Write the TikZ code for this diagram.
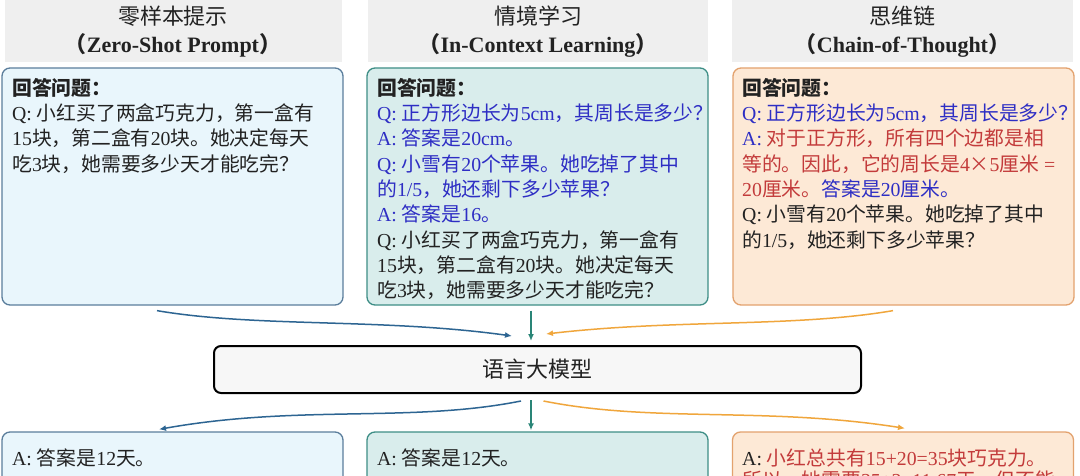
\documentclass[tikz,border=0pt]{standalone}
\usepackage{fontspec}
\setmainfont{Liberation Serif}
\newfontfamily\cjk{Noto Sans CJK SC}
\usetikzlibrary{arrows.meta}
\newcommand\zh[1]{{\cjk #1}}
\definecolor{hdrgray}{HTML}{EFEFEF}
\definecolor{zsfill}{HTML}{E9F6FC}
\definecolor{zsdraw}{HTML}{5B7E9C}
\definecolor{iclfill}{HTML}{D9EDEC}
\definecolor{icldraw}{HTML}{3E8E86}
\definecolor{cotfill}{HTML}{FDE9D6}
\definecolor{cotdraw}{HTML}{E3A26E}
\definecolor{arblue}{HTML}{2D6592}
\definecolor{arteal}{HTML}{2A8577}
\definecolor{arorange}{HTML}{F0A63C}
\definecolor{tblue}{HTML}{2E2EC4}
\definecolor{tred}{HTML}{C33B3B}
\definecolor{tblack}{HTML}{222222}
\newcommand\B[1]{\textcolor{tblue}{#1}}
\newcommand\R[1]{\textcolor{tred}{#1}}
\begin{document}
\begin{tikzpicture}[x=1pt,y=-1pt,
  hdr/.style={fill=hdrgray, minimum height=62pt, inner sep=0pt},
  title/.style={align=center, inner sep=0pt, text=tblack, font=\fontsize{22}{28}\selectfont},
  box/.style={rounded corners=8pt, line width=1.3pt, inner sep=0pt},
  zsbox/.style={box, draw=zsdraw, fill=zsfill},
  iclbox/.style={box, draw=icldraw, fill=iclfill},
  cotbox/.style={box, draw=cotdraw, fill=cotfill},
  txt/.style={anchor=north west, inner sep=0pt, align=left, text=tblack, font=\fontsize{19.8}{25.3}\selectfont},
  llmbox/.style={rounded corners=7pt, line width=2pt, draw=black, fill=black!3, inner sep=0pt, font=\fontsize{22}{26}\selectfont, text=tblack},
  conn/.style={line width=1.5pt, -{Latex[length=7pt,width=6pt]}}
]
\useasboundingbox (0,0) rectangle (1080,476);
\clip (0,0) rectangle (1080,476);
\fill[white] (0,0) rectangle (1080,476);

% headers
\node[hdr, minimum width=337pt] (h1) at (173.5,31) {};
\node[hdr, minimum width=340pt] (h2) at (538,31) {};
\node[hdr, minimum width=341pt] (h3) at (902.5,31) {};
\node[title] (t1) at (173,32) {\zh{零样本提示}\\\textbf{\zh{（}Zero-Shot Prompt\zh{）}}};
\node[title] (t2) at (538,32) {\zh{情境学习}\\\textbf{\zh{（}In-Context Learning\zh{）}}};
\node[title] (t3) at (902.5,32) {\zh{思维链}\\\textbf{\zh{（}Chain-of-Thought\zh{）}}};

% top boxes
\node[zsbox, minimum width=341pt, minimum height=237pt] (zsq) at (172.5,186.5) {};
\node[iclbox, minimum width=341pt, minimum height=237pt] (iclq) at (537.5,186.5) {};
\node[cotbox, minimum width=341pt, minimum height=237pt] (cotq) at (903.5,186.5) {};

\node[txt] (zsqt) at (12,78) {\textbf{\zh{回答问题：}}\\
Q: \zh{小红买了两盒巧克力，第一盒有}\\
15\zh{块，第二盒有}20\zh{块。她决定每天}\\
\zh{吃}3\zh{块，她需要多少天才能吃完？}};

\node[txt] (iclqt) at (377,78) {\textbf{\zh{回答问题：}}\\
\B{Q: \zh{正方形边长为}5cm\zh{，其周长是多少？}}\\
\B{A: \zh{答案是}20cm\zh{。}}\\
\B{Q: \zh{小雪有}20\zh{个苹果。她吃掉了其中}}\\
\B{\zh{的}1/5\zh{，她还剩下多少苹果？}}\\
\B{A: \zh{答案是}16\zh{。}}\\
Q: \zh{小红买了两盒巧克力，第一盒有}\\
15\zh{块，第二盒有}20\zh{块。她决定每天}\\
\zh{吃}3\zh{块，她需要多少天才能吃完？}};

\node[txt] (cotqt) at (742,78) {\textbf{\zh{回答问题：}}\\
\B{Q: \zh{正方形边长为}5cm\zh{，其周长是多少？}}\\
\B{A:} \R{\zh{对于正方形，所有四个边都是相}}\\
\R{\zh{等的。因此，它的周长是}4\zh{×}5\zh{厘米} =}\\
\R{20\zh{厘米。}}\B{\zh{答案是}20\zh{厘米。}}\\
Q: \zh{小雪有}20\zh{个苹果。她吃掉了其中}\\
\zh{的}1/5\zh{，她还剩下多少苹果？}};

% LLM
\node[llmbox, minimum width=647pt, minimum height=47pt] (llm) at (537.5,369.5) {\zh{语言大模型}};

% bottom boxes
\node[zsbox, minimum width=341pt, minimum height=100pt] (zsa) at (172.5,482) {};
\node[iclbox, minimum width=341pt, minimum height=100pt] (ica) at (537.5,482) {};
\node[cotbox, minimum width=341pt, minimum height=100pt] (cota) at (903,482) {};

\node[txt] (zsat) at (12,449) {A: \zh{答案是}12\zh{天。}};
\node[txt] (icat) at (377,449) {A: \zh{答案是}12\zh{天。}};
\node[txt] (cotat) at (742,449) {A: \R{\zh{小红总共有}15+20=35\zh{块巧克力。}}\\[-4pt]
\R{\zh{所以，她需要}35÷3≈11.67\zh{天，但不能}}};

% connectors
\draw[conn, arblue] ([shift={(-15.5,5)}]zsq.south) .. controls +(100,17) and +(-130,-18) .. ([shift={(-25.5,-9)}]llm.north);
\draw[conn, arteal] ([shift={(-6.5,5)}]iclq.south) -- ([shift={(-6.5,-4)}]llm.north);
\draw[conn, arorange] ([shift={(-10.5,5)}]cotq.south) .. controls +(-100,17) and +(130,-15) .. ([shift={(8.5,-11)}]llm.north);

\draw[conn, arblue] ([shift={(-16.5,7)}]llm.south) .. controls +(-110,22) and +(140,-25) .. ([shift={(-13.5,-2)}]zsa.north);
\draw[conn, arteal] ([shift={(-6.5,6)}]llm.south) -- ([shift={(-6.5,-1)}]ica.north);
\draw[conn, arorange] ([shift={(6,7)}]llm.south) .. controls +(110,22) and +(-140,-22) .. ([shift={(2,-3)}]cota.north);
\end{tikzpicture}
\end{document}
